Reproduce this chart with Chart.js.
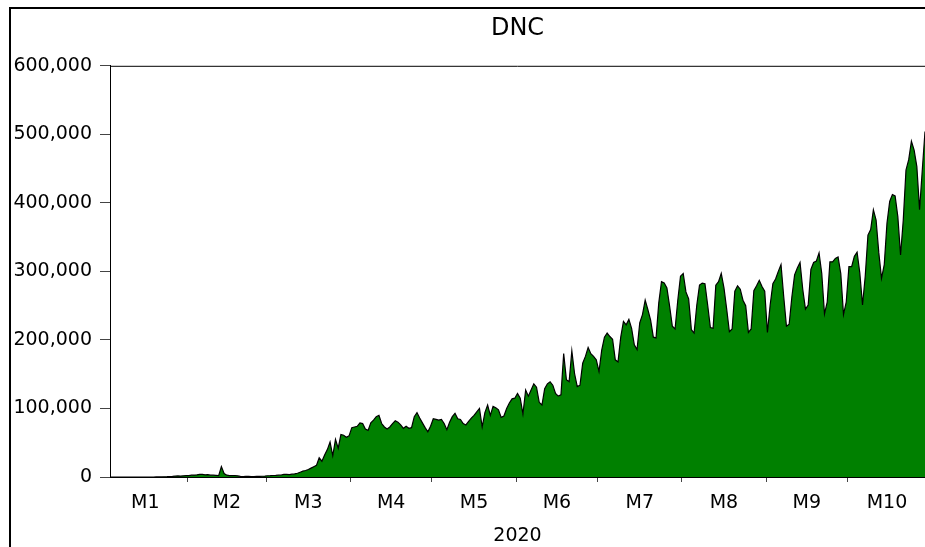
<!DOCTYPE html>
<html>
<head>
<meta charset="utf-8">
<script src="https://cdn.jsdelivr.net/npm/chart.js@4.4.1/dist/chart.umd.min.js"></script>
<style>
  body { margin: 0; background: #fff; overflow: hidden; }
  #wrap { position: relative; width: 925px; height: 547px; overflow: hidden; background: #fff; }
  #frame { position: absolute; left: 9px; top: 7px; width: 2000px; height: 2000px;
           border-left: 2px solid #000; border-top: 2px solid #000; pointer-events: none; }
  canvas { display: block; }
</style>
</head>
<body>
<div id="wrap">
  <canvas id="dncChart" width="925" height="547"></canvas>
  <div id="frame"></div>
</div>
<script>
// daily data starts 2020-01-03
const startDate = Date.UTC(2020, 0, 3);
const monthLabels = ['M1', 'M2', 'M3', 'M4', 'M5', 'M6', 'M7', 'M8', 'M9', 'M10'];
const yTicks = [0, 100000, 200000, 300000, 400000, 500000, 600000];

const dncJan = [0, 0, 0, 0, 0, 0, 0, 0, 0, 0, 0, 0, 0, 0, 0, 0, 0, 78, 150, 110, 290, 410, 680, 790, 1300, 1500, 1400, 1750, 2000];
const dncFeb = [2100, 2600, 2800, 3200, 3900, 3700, 3200, 3400, 2700, 2600, 2500, 2000, 15100, 5100, 2600, 2000, 2100, 1900, 1700, 900, 600, 1100, 900, 600, 500, 800, 1000, 1100, 1400];
const dncMar = [1800, 1900, 2200, 2300, 2700, 2900, 3800, 3900, 3600, 4100, 4600, 5500, 7000, 8500, 9500, 11000, 13000, 15000, 17000, 28000, 23000, 32000, 40000, 51000, 31000, 55000, 42000, 62000, 61000, 58000, 60000];
const dncApr = [72000, 73000, 74000, 79000, 78000, 70000, 68000, 79000, 83000, 88000, 90000, 78000, 73000, 70000, 73000, 78000, 82000, 80000, 76000, 71000, 74000, 71000, 72000, 88000, 94000, 86000, 79000, 72000, 66000, 74000];
const dncMay = [85000, 84000, 83000, 84000, 78000, 69000, 80000, 88000, 93000, 85000, 84000, 78000, 76000, 81000, 86000, 90000, 95000, 100000, 73000, 94000, 105000, 90000, 103000, 101000, 98000, 87000, 89000, 100000, 108000, 114000, 115000];
const dncJun = [122000, 115000, 92000, 127000, 118000, 127000, 136000, 131000, 109000, 105000, 129000, 136000, 139000, 134000, 122000, 118000, 120000, 180000, 142000, 139000, 184000, 151000, 132000, 134000, 166000, 176000, 189000, 180000, 176000, 171000];
const dncJul = [154000, 185000, 204000, 210000, 205000, 201000, 171000, 168000, 204000, 227000, 222000, 230000, 217000, 193000, 186000, 225000, 237000, 258000, 244000, 229000, 204000, 203000, 254000, 285000, 283000, 276000, 249000, 220000, 216000, 258000, 293000];
const dncAug = [297000, 270000, 260000, 215000, 210000, 251000, 280000, 283000, 282000, 251000, 218000, 217000, 280000, 285000, 297000, 276000, 245000, 212000, 216000, 271000, 279000, 274000, 258000, 250000, 211000, 216000, 272000, 279000, 287000, 278000, 271000];
const dncSep = [211000, 251000, 282000, 289000, 300000, 310000, 263000, 220000, 223000, 263000, 295000, 305000, 313000, 274000, 245000, 251000, 303000, 313000, 315000, 327000, 297000, 238000, 255000, 314000, 314000, 319000, 321000, 297000, 237000, 255000];
const dncOct = [307000, 307000, 322000, 328000, 298000, 251000, 293000, 353000, 361000, 390000, 375000, 327000, 290000, 310000, 370000, 402000, 412000, 410000, 380000, 324000, 375000, 448000, 463000, 490000, 477000, 453000, 390000, 448000, 504000];

const dnc = [].concat(dncJan, dncFeb, dncMar, dncApr, dncMay, dncJun, dncJul, dncAug, dncSep, dncOct);
const lastIdx = dnc.length - 1;

// month start positions (day index from start date)
const monthStart = monthLabels.map((m, i) => (Date.UTC(2020, i, 1) - startDate) / 86400000);
const boundaries = monthStart.slice(1).map(v => v - 0.5);
const mids = monthStart.map((s, i) => {
  const end = i < monthStart.length - 1 ? monthStart[i + 1] - 1 : lastIdx;
  return (s + Math.min(end, lastIdx)) / 2;
});
const tickLabel = new Map();
boundaries.forEach(v => tickLabel.set(v, ''));
mids.forEach((v, i) => tickLabel.set(v, monthLabels[i]));
const tickValues = [...tickLabel.keys()].sort((a, b) => a - b);

// top edge of the plot box
const topBorder = {
  id: 'topBorder',
  afterDraw(chart) {
    const { ctx, chartArea } = chart;
    ctx.save();
    ctx.strokeStyle = '#000';
    ctx.lineWidth = 1;
    ctx.beginPath();
    ctx.moveTo(chartArea.left, chartArea.top + 0.5);
    ctx.lineTo(chartArea.right, chartArea.top + 0.5);
    ctx.stroke();
    ctx.restore();
  }
};

const font = { family: 'DejaVu Sans', size: 19 };

const ctx = document.getElementById('dncChart').getContext('2d');
new Chart(ctx, {
  type: 'line',
  data: {
    datasets: [{
      label: 'DNC',
      data: dnc.map((v, i) => ({ x: i, y: v })),
      borderColor: '#000',
      borderWidth: 1.2,
      backgroundColor: '#008000',
      fill: 'origin',
      pointRadius: 0,
      tension: 0
    }]
  },
  options: {
    responsive: false,
    animation: false,
    layout: { padding: { left: 10, right: 0, top: 0, bottom: 0 } },
    plugins: {
      legend: { display: false },
      tooltip: { enabled: false },
      title: {
        display: true,
        text: 'DNC',
        fullSize: false,
        color: '#000',
        font: { family: 'DejaVu Sans', size: 24, weight: 'normal' },
        padding: { top: 14, bottom: 23 }
      }
    },
    scales: {
      x: {
        type: 'linear',
        min: 0,
        max: lastIdx,
        afterBuildTicks: s => { s.ticks = tickValues.map(v => ({ value: v })); },
        afterFit: s => { s.height = 70; },
        border: { color: '#000', width: 1 },
        grid: {
          drawOnChartArea: false,
          tickLength: 5,
          tickColor: c => (c.tick && tickLabel.get(c.tick.value) === '') ? '#444' : 'rgba(0,0,0,0)'
        },
        ticks: {
          autoSkip: false,
          maxRotation: 0,
          padding: 10,
          color: '#000',
          font: font,
          callback: v => tickLabel.has(v) ? tickLabel.get(v) : ''
        },
        title: {
          display: true,
          text: '2020',
          color: '#000',
          font: font,
          padding: { top: 0, bottom: 0 }
        }
      },
      y: {
        min: 0,
        max: 600000,
        afterBuildTicks: s => { s.ticks = yTicks.map(v => ({ value: v })); },
        afterFit: s => { s.width = 100; },
        border: { color: '#000', width: 1 },
        grid: { drawOnChartArea: false, tickLength: 10, tickColor: '#444' },
        ticks: {
          padding: 8,
          color: '#000',
          font: font,
          callback: v => v.toLocaleString('en-US')
        }
      }
    }
  },
  plugins: [topBorder]
});
</script>
</body>
</html>
